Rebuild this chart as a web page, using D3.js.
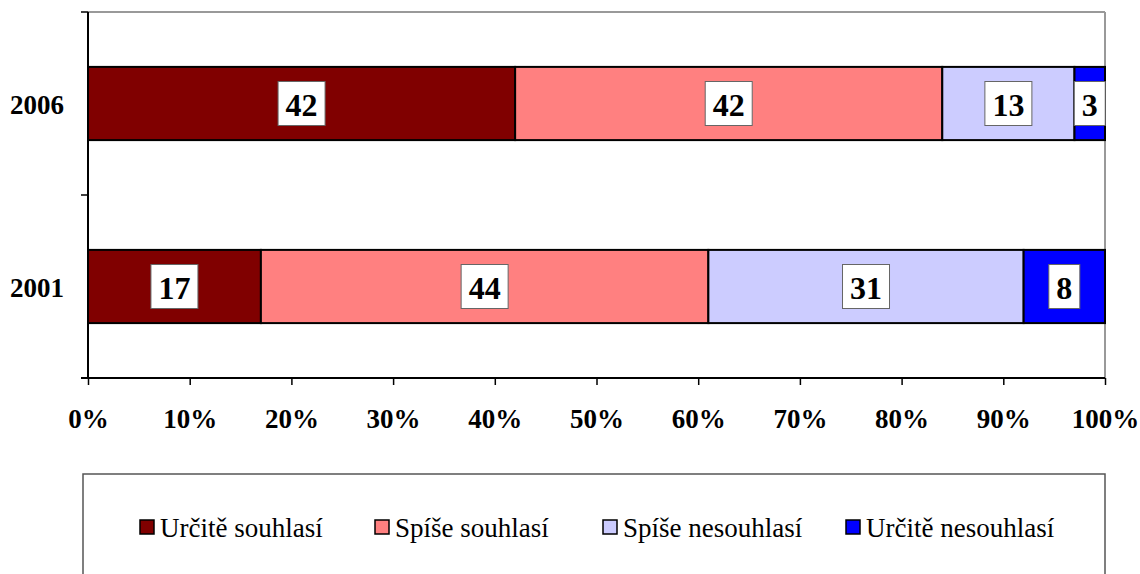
<!DOCTYPE html>
<head>
	<script type="text/javascript" src="https://cdn.jsdelivr.net/npm/d3@7/dist/d3.min.js"></script>
	<style type="text/css">
	body{
		margin: 0;
		background: #fff;
	}
	</style>
</head>
<body>
	<div class="viz"></div>
</body>
<script type="text/javascript">
// data
var years = ["2006", "2001"];
var series = ["Určitě souhlasí", "Spíše souhlasí", "Spíše nesouhlasí", "Určitě nesouhlasí"];
var colors = ["#800000", "#ff8080", "#ccccff", "#0000ff"];
var vals2006 = [42, 42, 13, 3];
var vals2001 = [17, 44, 31, 8];
var xticks = [0, 10, 20, 30, 40, 50, 60, 70, 80, 90, 100];

var values = {"2006": vals2006, "2001": vals2001};
var FONT = "Liberation Serif";

var W = 1140, H = 574;
var svg = d3.select(".viz").append("svg").attr("width", W).attr("height", H)
	.attr("font-family", FONT);

var pLeft = 88, pRight = 1105, pTop = 12, pBottom = 378;
var x = d3.scaleLinear().domain([0, 100]).range([pLeft, pRight]);
var y = d3.scaleBand().domain(years).range([pTop, pBottom]).paddingInner(0.6).paddingOuter(0.3);

// plot frame (top and right grey)
svg.append("line").attr("x1", pLeft).attr("x2", pRight).attr("y1", pTop).attr("y2", pTop)
	.attr("stroke", "#999").attr("stroke-width", 2);
svg.append("line").attr("x1", pRight).attr("x2", pRight).attr("y1", pTop).attr("y2", pBottom)
	.attr("stroke", "#999").attr("stroke-width", 2);

// stacked bars
years.forEach(function(yr){
	var acc = 0;
	values[yr].forEach(function(v, i){
		var x0 = acc, x1 = acc + v;
		acc = x1;
		svg.append("rect")
			.attr("x", x(x0)).attr("y", y(yr))
			.attr("width", x(x1) - x(x0)).attr("height", y.bandwidth())
			.style("fill", colors[i]).style("stroke", "#000").style("stroke-width", 2);
	});
});

// labels
years.forEach(function(yr){
	var acc = 0;
	values[yr].forEach(function(v, i){
		var cx = x(acc + v / 2);
		acc += v;
		var cy = y(yr) + y.bandwidth() / 2;
		var g = svg.append("g");
		var t = g.append("text").text(v)
			.attr("x", cx).attr("y", cy + 12)
			.attr("text-anchor", "middle")
			.attr("font-family", FONT).attr("font-size", 32).attr("font-weight", "bold");
		var bb = t.node().getBBox();
		var bw = bb.width + 15, bh = 44;
		g.insert("rect", "text")
			.attr("x", cx - bw / 2).attr("y", cy - bh / 2)
			.attr("width", bw).attr("height", bh)
			.style("fill", "#fff").style("stroke", "#666").style("stroke-width", 1);
	});
});

// y axis
var yTickPos = [pTop, (pTop + pBottom) / 2, pBottom];
svg.append("line").attr("x1", pLeft).attr("x2", pLeft).attr("y1", pTop).attr("y2", pBottom)
	.attr("stroke", "#000").attr("stroke-width", 2);
yTickPos.forEach(function(p){
	svg.append("line").attr("x1", pLeft - 7).attr("x2", pLeft).attr("y1", p).attr("y2", p)
		.attr("stroke", "#000").attr("stroke-width", 1.5);
});
years.forEach(function(yr){
	svg.append("text").text(yr)
		.attr("x", 64).attr("y", y(yr) + y.bandwidth() / 2 + 10)
		.attr("text-anchor", "end")
		.attr("font-family", FONT).attr("font-size", 27).attr("font-weight", "bold");
});

// x axis
var xaxis = d3.axisBottom(x).tickValues(xticks).tickSize(7).tickFormat(function(d){ return d + "%"; });
var gx = svg.append("g").attr("transform", "translate(0," + pBottom + ")").call(xaxis)
	.attr("font-family", FONT).attr("font-size", 27).attr("font-weight", "bold");
gx.select(".domain").attr("stroke", "#000").attr("stroke-width", 2)
	.attr("d", "M" + (pLeft - 7) + ",0H" + pRight);
gx.selectAll(".tick line").attr("stroke", "#000").attr("stroke-width", 1.5);
gx.selectAll(".tick text").attr("y", 50).attr("dy", null).attr("fill", "#000");

// legend
svg.append("rect").attr("x", 83).attr("y", 474).attr("width", 1022).attr("height", 140)
	.style("fill", "#fff").style("stroke", "#555").style("stroke-width", 1.5);
var legX = [140, 375, 603, 846];
series.forEach(function(s, i){
	svg.append("rect").attr("x", legX[i]).attr("y", 520).attr("width", 14).attr("height", 14)
		.style("fill", colors[i]).style("stroke", "#000").style("stroke-width", 1.5);
	svg.append("text").text(s).attr("x", legX[i] + 20).attr("y", 537)
		.attr("font-family", FONT).attr("font-size", 27);
});
</script>
